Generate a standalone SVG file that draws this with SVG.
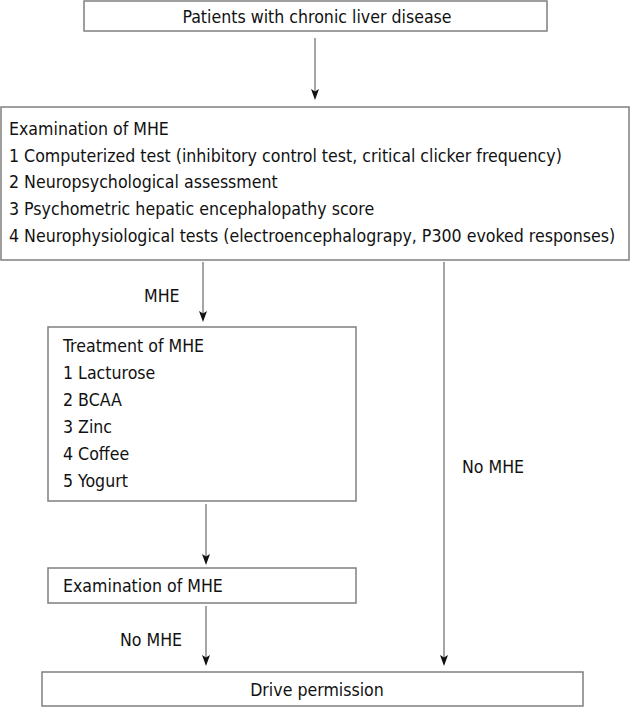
<svg xmlns="http://www.w3.org/2000/svg" width="630" height="707" viewBox="0 0 630 707">
<defs>
<style>
.box{fill:#fff;stroke:#7f7f7f;stroke-width:1.5}
.t{font-family:"DejaVu Sans Condensed","DejaVu Sans",sans-serif;font-stretch:condensed;font-size:17.6px;fill:#111}
.c{text-anchor:middle}
.ln{stroke:#808080;stroke-width:1.4;fill:none;marker-end:url(#ah)}
</style>
<marker id="ah" markerUnits="userSpaceOnUse" viewBox="0 -4 11 8" refX="7" refY="0" markerWidth="11" markerHeight="8" orient="auto">
<path d="M0,-4 L11,0 L0,4 L2.5,0 Z" fill="#111"/>
</marker>
</defs>
<rect width="630" height="707" fill="#fff"/>
<g id="connectors">
<line class="ln" x1="315" y1="38" x2="315" y2="96"/>
<line class="ln" x1="203" y1="262" x2="203" y2="318"/>
<line class="ln" x1="444" y1="262" x2="444" y2="662"/>
<line class="ln" x1="206" y1="504" x2="206" y2="561"/>
<line class="ln" x1="206" y1="606" x2="206" y2="662"/>
<text class="t" x="144" y="302">MHE</text>
<text class="t" x="462" y="473">No MHE</text>
<text class="t" x="120" y="646">No MHE</text>
</g>
<g id="n1">
<rect class="box" x="84" y="1" width="463" height="30"/>
<text class="t c" x="317" y="23">Patients with chronic liver disease</text>
</g>
<g id="n2">
<rect class="box" x="1" y="107" width="628" height="153"/>
<text class="t" x="9" y="135">Examination of MHE</text>
<text class="t" x="9" y="162">1 Computerized test (inhibitory control test, critical clicker frequency)</text>
<text class="t" x="9" y="188">2 Neuropsychological assessment</text>
<text class="t" x="9" y="215">3 Psychometric hepatic encephalopathy score</text>
<text class="t" x="9" y="242">4 Neurophysiological tests (electroencephalograpy, P300 evoked responses)</text>
</g>
<g id="n3">
<rect class="box" x="48" y="327" width="308" height="174"/>
<text class="t" x="63" y="352">Treatment of MHE</text>
<text class="t" x="63" y="379">1 Lacturose</text>
<text class="t" x="63" y="406">2 BCAA</text>
<text class="t" x="63" y="433">3 Zinc</text>
<text class="t" x="63" y="460">4 Coffee</text>
<text class="t" x="63" y="487">5 Yogurt</text>
</g>
<g id="n4">
<rect class="box" x="48" y="568" width="308" height="35"/>
<text class="t" x="63" y="592">Examination of MHE</text>
</g>
<g id="n5">
<rect class="box" x="42" y="672" width="541" height="34"/>
<text class="t c" x="317" y="696">Drive permission</text>
</g>
</svg>
